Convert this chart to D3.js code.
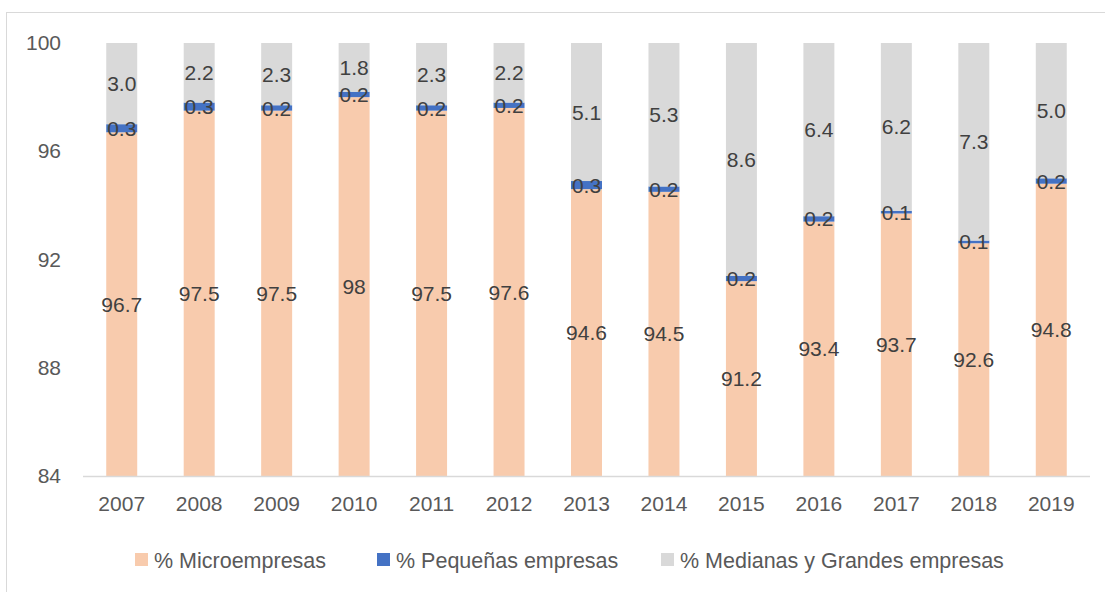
<!DOCTYPE html>
<html>
<head>
<meta charset="utf-8">
<script src="https://cdn.jsdelivr.net/npm/d3@7"></script>
<style>
    body { margin: 0; background: #fff; }
    svg { display: block; font-family: "Liberation Sans", Arial, sans-serif; }
</style>
</head>
<body>
<svg id="chart" width="1105" height="592"></svg>
<script>
// datos
const years = ["2007", "2008", "2009", "2010", "2011", "2012", "2013", "2014", "2015", "2016", "2017", "2018", "2019"];
const micro = [96.7, 97.5, 97.5, 98, 97.5, 97.6, 94.6, 94.5, 91.2, 93.4, 93.7, 92.6, 94.8];
const pequenas = [0.3, 0.3, 0.2, 0.2, 0.2, 0.2, 0.3, 0.2, 0.2, 0.2, 0.1, 0.1, 0.2];
const medianas = [3.0, 2.2, 2.3, 1.8, 2.3, 2.2, 5.1, 5.3, 8.6, 6.4, 6.2, 7.3, 5.0];
const yTicks = [84, 88, 92, 96, 100];

const seriesNames = ["% Microempresas", "% Pequeñas empresas", "% Medianas y Grandes empresas"];
const seriesColors = ["#F8CBAD", "#4472C4", "#D9D9D9"];
const seriesFormat = [d => String(d), d => d.toFixed(1), d => d.toFixed(1)];

const svg = d3.select("#chart");

// marco del gráfico
svg.append("rect")
    .attr("x", 6.5).attr("y", 12.5)
    .attr("width", 1110).attr("height", 600)
    .attr("fill", "none")
    .attr("stroke", "#D9D9D9");

const x = d3.scaleBand()
    .domain(years)
    .range([83, 1090])
    .paddingInner(0.6)
    .paddingOuter(0.3);

const y = d3.scaleLinear()
    .domain([84, 100])
    .range([476, 43]);

const rows = years.map((yr, i) => ({ year: yr, s0: micro[i], s1: pequenas[i], s2: medianas[i] }));
const stack = d3.stack().keys(["s0", "s1", "s2"]);
const stacked = stack(rows);

// barras apiladas
stacked.forEach((layer, k) => {
    svg.append("g")
        .selectAll("rect")
        .data(layer)
        .enter()
        .append("rect")
        .attr("x", d => x(d.data.year))
        .attr("width", x.bandwidth())
        .attr("y", d => y(d[1]))
        .attr("height", d => y(Math.max(84, d[0])) - y(d[1]))
        .attr("fill", seriesColors[k]);
});

// eje x (línea)
svg.append("line")
    .attr("x1", 83).attr("x2", 1090)
    .attr("y1", y(84) + 0.5).attr("y2", y(84) + 0.5)
    .attr("stroke", "#D9D9D9")
    .attr("stroke-width", 1.5);

// etiquetas de datos
stacked.forEach((layer, k) => {
    svg.append("g")
        .selectAll("text")
        .data(layer)
        .enter()
        .append("text")
        .attr("x", d => x(d.data.year) + x.bandwidth() / 2)
        .attr("y", d => (y(Math.max(84, d[0])) + y(d[1])) / 2)
        .attr("dy", "0.36em")
        .attr("text-anchor", "middle")
        .attr("font-size", "21px")
        .attr("fill", "#404040")
        .text(d => seriesFormat[k](d.data["s" + k]));
});

// eje y
const yAxis = svg.append("g")
    .attr("transform", "translate(83,0)")
    .call(d3.axisLeft(y).tickValues(yTicks).tickSize(0).tickPadding(22));
yAxis.select(".domain").remove();
yAxis.selectAll("text")
    .attr("font-family", "Liberation Sans, Arial, sans-serif")
    .attr("font-size", "21px")
    .attr("fill", "#595959");

// eje x
const xAxis = svg.append("g")
    .attr("transform", `translate(0,${y(84)})`)
    .call(d3.axisBottom(x).tickSize(0).tickPadding(20));
xAxis.select(".domain").remove();
xAxis.selectAll("text")
    .attr("font-family", "Liberation Sans, Arial, sans-serif")
    .attr("font-size", "21px")
    .attr("fill", "#595959");

// leyenda
const legendX = [135, 377, 661];
const legend = svg.append("g");
seriesNames.forEach((name, i) => {
    const g = legend.append("g").attr("transform", `translate(${legendX[i]},560)`);
    g.append("rect")
        .attr("x", 0).attr("y", -7)
        .attr("width", 13).attr("height", 13)
        .attr("fill", seriesColors[i]);
    g.append("text")
        .attr("x", 19).attr("y", 0)
        .attr("dy", "0.36em")
        .attr("font-size", "21.5px")
        .attr("fill", "#595959")
        .text(name);
});
</script>
</body>
</html>
